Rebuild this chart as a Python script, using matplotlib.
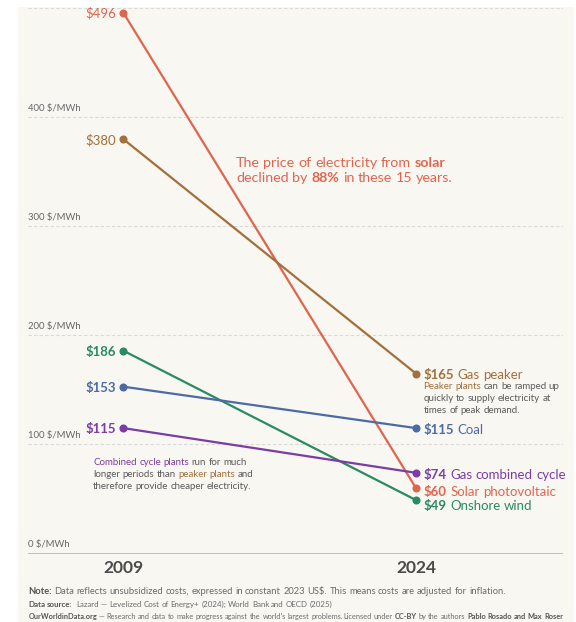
import matplotlib
matplotlib.use("Agg")
import matplotlib.pyplot as plt
from matplotlib.patches import Rectangle
from matplotlib.transforms import IdentityTransform

plt.rcParams['font.family'] = ['Lato', 'DejaVu Sans']

# ---------------- data ----------------
years = [2009, 2024]
series = ["Solar photovoltaic", "Gas peaker", "Onshore wind", "Coal", "Gas combined cycle"]
values_2009 = [496, 380, 186, 153, 115]
values_2024 = [60, 165, 49, 115, 74]
colors = ["#e0654f", "#a2703c", "#2a8a60", "#4c6ba5", "#7b3da3"]
yticks = [0, 100, 200, 300, 400, 500]
ytick_labels = ["0 $/MWh", "100 $/MWh", "200 $/MWh", "300 $/MWh", "400 $/MWh", ""]
# right label vertical nudges in px (positive = down) to avoid overlap
right_nudge = [3, 0, 4.5, 1, 1]

W, H = 576, 622
DPI = 100
BG = "#f9f7f2"
GREY = "#5b5b5b"

fig = plt.figure(figsize=(W / DPI, H / DPI), dpi=DPI, facecolor="white")
fig.patches.append(Rectangle((18 / W, 0), (574 - 18) / W, (H - 7) / H,
                             transform=fig.transFigure, facecolor=BG,
                             edgecolor="none", zorder=-10))

left_px, right_px = 28.3, 562.7
top_px, bot_px = 8.3, 553.5
ax = fig.add_axes([left_px / W, (H - bot_px) / H, (right_px - left_px) / W,
                   (bot_px - top_px) / H])
ax.set_facecolor("none")
ax.set_xlim(2004.132, 2031.518)
ax.set_ylim(0, 500)
for s in ax.spines.values():
    s.set_visible(False)
ax.set_xticks([])
ax.set_yticks([])

for yt in yticks[1:]:
    ax.axhline(yt, color="#d9d9d9", lw=0.8, ls=(0, (3, 2)), zorder=0)
ax.axhline(0, color="#b5b5b5", lw=1.2, zorder=0)
for yt, lab in zip(yticks, ytick_labels):
    if lab:
        ax.annotate(lab, xy=(0, yt), xycoords=("axes fraction", "data"),
                    xytext=(0, 3), textcoords="offset points",
                    fontsize=6.8, color="#666666", ha="left", va="bottom")

for v0, v1, c in zip(values_2009, values_2024, colors):
    ax.plot(years, [v0, v1], color=c, lw=1.6, marker="o", ms=4.8,
            clip_on=False, zorder=3)

fig.canvas.draw()
renderer = fig.canvas.get_renderer()


def tw(s, size, weight):
    t = fig.text(0, 0, s, fontsize=size, fontweight=weight)
    w = t.get_window_extent(renderer).width
    t.remove()
    return w


def advance(s, size, weight):
    """Advance width including trailing spaces."""
    return tw(s + "|", size, weight) - tw("|", size, weight)


def rich_width(segs, size):
    return sum(advance(t, size, w) for t, _, w in segs)


def rich(x, y, segs, size, va="baseline"):
    """Draw word by word; x, y in pixels, y measured from top."""
    yd = H - y
    for txt, color, weight in segs:
        sp = advance(" ", size, weight)
        words = txt.split(" ")
        for i, wd in enumerate(words):
            if i > 0:
                x += sp
            if wd == "":
                continue
            fig.text(x, yd, wd, transform=IdentityTransform(), fontsize=size,
                     color=color, fontweight=weight, ha="left", va=va)
            x += advance(wd, size, weight)
    return x


def fit_size(segs, target, base=6.2, lo=5.3, hi=6.9):
    w = rich_width(segs, base)
    return max(lo, min(hi, base * target / w))


def to_px(xv, yv):
    dx, dy = ax.transData.transform((xv, yv))
    return dx, H - dy


# left value labels
left_weights = ["normal", "normal", "bold", "bold", "bold"]
for v, c, wgt in zip(values_2009, colors, left_weights):
    px, py = to_px(2009, v)
    fig.text(px - 7, H - py, f"${v}", transform=IdentityTransform(),
             fontsize=9.5, color=c, fontweight=wgt, ha="right", va="center_baseline")

# right labels
for name, v, c, nd in zip(series, values_2024, colors, right_nudge):
    px, py = to_px(2024, v)
    rich(px + 8, py + nd, [(f"${v} ", c, "bold"), (name, c, "normal")], 9.5,
         va="center_baseline")

NS = 7.05
# gas peaker note
brown = colors[1]
rich(423.5, 389, [("Peaker plants ", brown, "normal"), ("can be ramped up", GREY, "normal")], NS)
rich(423.5, 401, [("quickly to supply electricity at", GREY, "normal")], NS)
rich(423.5, 413, [("times of peak demand.", GREY, "normal")], NS)

# combined cycle note
purple = colors[4]
rich(93, 465, [("Combined cycle plants ", purple, "normal"), ("run for much", GREY, "normal")], NS)
rich(93, 477, [("longer periods than ", GREY, "normal"), ("peaker plants ", brown, "normal"),
               ("and", GREY, "normal")], NS)
rich(93, 489, [("therefore provide cheaper electricity.", GREY, "normal")], NS)

# solar annotation
red = colors[0]
rich(236, 167, [("The price of electricity from ", red, "normal"), ("solar", red, "bold")], 10.3)
rich(236, 182, [("declined by ", red, "normal"), ("88%", red, "bold"),
                (" in these 15 years.", red, "normal")], 10.3)

# year labels
for yr in years:
    px, _ = to_px(yr, 0)
    fig.text(px, H - 568, str(yr), transform=IdentityTransform(), fontsize=12.5,
             color="#4a4a4a", fontweight="bold", ha="center", va="center")

# footer
FG = "#6b6b6b"
FB = "#555555"
note = [("Note: ", FB, "bold"),
        ("Data reflects unsubsidized costs, expressed in constant 2023 US$. This means costs are adjusted for inflation.", FG, "normal")]
source = [("Data source: ", FB, "bold"),
          (" Lazard — Levelized Cost of Energy+ (2024); World Bank and OECD (2025)", FG, "normal")]
owid = [("OurWorldinData.org", FB, "bold"),
        (" — Research and data to make progress against the world's largest problems.", FG, "normal")]
lic = [("Licensed under ", FG, "normal"), ("CC-BY ", FB, "bold"),
       ("by the authors ", FG, "normal"), ("Pablo Rosado and Max Roser", FB, "bold")]

s_note = fit_size(note, 482)
s_src = fit_size(source, 308)
s_owid = fit_size(owid, 305)
s_lic = fit_size(lic, 212)
rich(28.3, 594, note, s_note)
rich(28.3, 607, source, s_src)
rich(28.3, 619, owid, s_owid)
rich(563 - rich_width(lic, s_lic), 619, lic, s_lic)

fig.savefig("out.png", dpi=DPI, facecolor="white")
